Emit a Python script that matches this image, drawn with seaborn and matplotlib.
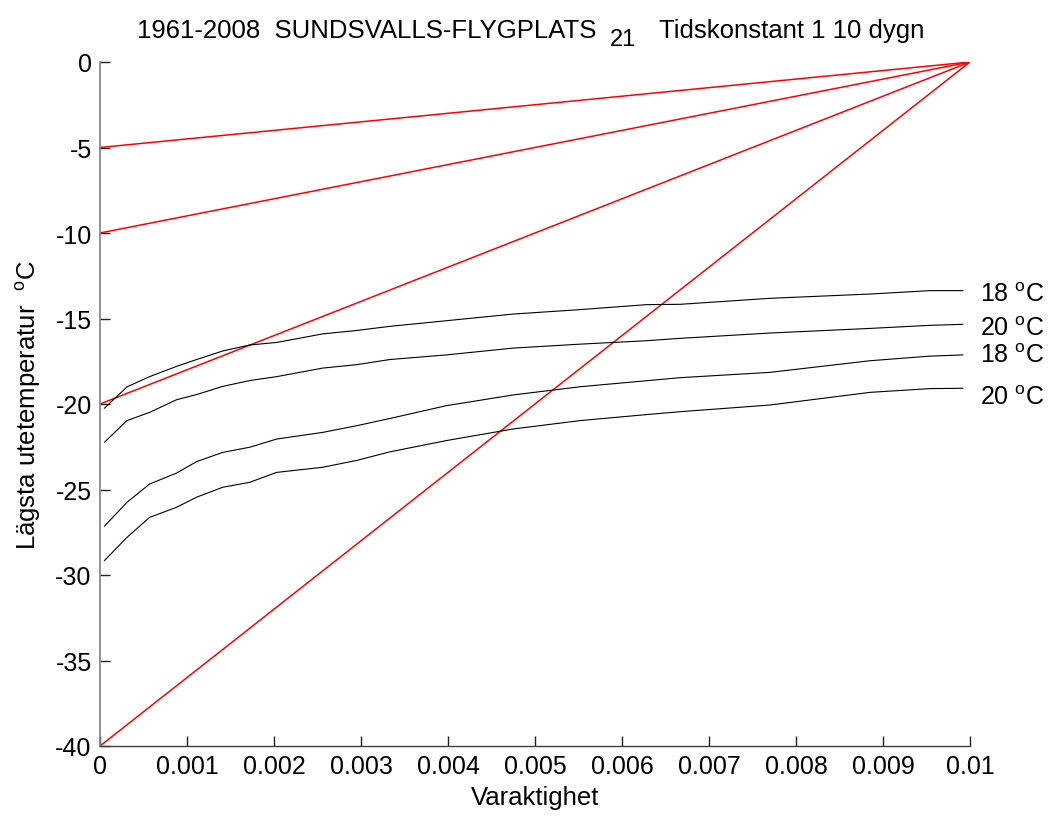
import numpy as np
import pandas as pd
import matplotlib
matplotlib.use("Agg")
import matplotlib.pyplot as plt
from matplotlib import font_manager
import seaborn as sns

# ---- data ----
varaktighet = [0.00005, 0.00031, 0.00057, 0.00088, 0.00111, 0.00141, 0.00172, 0.00203,
               0.00256, 0.00295, 0.00333, 0.00398, 0.00475, 0.00552, 0.00628, 0.00667,
               0.0077, 0.00885, 0.00954, 0.00992]
curve_18_a = [-20.25, -19.0, -18.4, -17.8, -17.4, -16.9, -16.55, -16.4, -15.9, -15.7,
              -15.46, -15.13, -14.74, -14.48, -14.19, -14.17, -13.82, -13.57, -13.37, -13.37]
curve_20_a = [-22.24, -20.97, -20.49, -19.75, -19.45, -18.97, -18.63, -18.4, -17.9, -17.7,
              -17.4, -17.13, -16.73, -16.5, -16.3, -16.16, -15.85, -15.58, -15.4, -15.34]
curve_18_b = [-27.15, -25.75, -24.68, -24.04, -23.37, -22.83, -22.53, -22.05, -21.66, -21.27,
              -20.85, -20.1, -19.47, -18.99, -18.64, -18.46, -18.15, -17.47, -17.2, -17.13]
curve_20_b = [-29.16, -27.8, -26.63, -26.04, -25.45, -24.87, -24.58, -24.0, -23.7, -23.3,
              -22.8, -22.14, -21.46, -20.97, -20.62, -20.45, -20.06, -19.32, -19.1, -19.08]
curve_names = ["18a", "20a", "18b", "20b"]
curve_labels = ["18", "20", "18", "20"]
label_y = [-13.57, -15.56, -17.13, -19.6]

red_start_x = [0.0, 0.0, 0.0, 0.0]
red_start_y = [-5, -10, -20, -40]
red_end_x = 0.01
red_end_y = 0

xticks = [0, 0.001, 0.002, 0.003, 0.004, 0.005, 0.006, 0.007, 0.008, 0.009, 0.01]
xticklabels = ["0", "0.001", "0.002", "0.003", "0.004", "0.005", "0.006", "0.007", "0.008", "0.009", "0.01"]
yticks = [0, -5, -10, -15, -20, -25, -30, -35, -40]

title_main = "1961-2008  SUNDSVALLS-FLYGPLATS"
title_sub = "21"
title_rest = "Tidskonstant 1 10 dygn"

# ---- build tables ----
curves = [curve_18_a, curve_20_a, curve_18_b, curve_20_b]
rows = []
for name, vals in zip(curve_names, curves):
    for x, y in zip(varaktighet, vals):
        rows.append({"x": x, "y": y, "kurva": name})
df_curves = pd.DataFrame(rows)

red_rows = []
for i, (x0, y0) in enumerate(zip(red_start_x, red_start_y)):
    red_rows.append({"x": x0, "y": y0, "linje": i})
    red_rows.append({"x": red_end_x, "y": red_end_y, "linje": i})
df_red = pd.DataFrame(red_rows)

# ---- plot ----
sns.set_style("white")
plt.rcParams["font.family"] = ["Liberation Sans", "DejaVu Sans"]
plt.rcParams["mathtext.fontset"] = "custom"
plt.rcParams["mathtext.rm"] = "Liberation Sans"
plt.rcParams["text.color"] = "black"
plt.rcParams["axes.labelcolor"] = "black"
plt.rcParams["xtick.direction"] = "in"
plt.rcParams["ytick.direction"] = "in"
plt.rcParams["xtick.bottom"] = True
plt.rcParams["ytick.left"] = True

names = {f.name for f in font_manager.fontManager.ttflist}
narrow = "Liberation Sans Narrow" if "Liberation Sans Narrow" in names else None

FS = 18

fig = plt.figure(figsize=(10.49, 8.20), dpi=100)
ax = fig.add_axes([100 / 1049, 1 - 747 / 820, 870 / 1049, 684 / 820])

sns.lineplot(data=df_red, x="x", y="y", units="linje", estimator=None,
             color="#ff0000", linewidth=1.1, ax=ax, legend=False, sort=False)
sns.lineplot(data=df_curves, x="x", y="y", units="kurva", estimator=None,
             color="black", linewidth=0.8, ax=ax, legend=False, sort=False)

ax.set_xlim(0, 0.01)
ax.set_ylim(-40, 0)
ax.set_xticks(xticks)
ax.set_xticklabels(xticklabels)
ax.set_yticks(yticks)
ax.set_yticklabels([str(t) for t in yticks])
ax.tick_params(direction="in", length=7, width=1.0, labelsize=FS, pad=6,
               color="#222222", labelcolor="black", bottom=True, left=True)
for s in ["top", "right"]:
    ax.spines[s].set_visible(False)
ax.spines["left"].set_color("#808080")
ax.spines["left"].set_linewidth(1.2)
ax.spines["bottom"].set_color("#404040")
ax.spines["bottom"].set_linewidth(1.0)

for txt, yv in zip(curve_labels, label_y):
    ax.text(0.01012, yv, txt + r" $^{\rm o}$C", fontsize=FS, va="center", ha="left",
            clip_on=False, color="black")

ax.set_xlabel("Varaktighet", fontsize=FS + 0.5, labelpad=5)
ax.set_ylabel(r"Lägsta utetemperatur  $^{\rm o}$C", fontsize=FS + 0.5, labelpad=9)

# title pieces (narrow font when available)
if narrow:
    tfam = [narrow, "Liberation Sans", "DejaVu Sans"]
    tfs = 21.5
else:
    tfam = ["Liberation Sans", "DejaVu Sans"]
    tfs = 18.5
fig.text(137 / 1049, 1 - 31 / 820, title_main, ha="left", va="center",
         fontsize=tfs, family=tfam, color="black")
fig.text(610 / 1049, 1 - 40 / 820, title_sub, ha="left", va="center",
         fontsize=tfs - 1.5, family=tfam, color="black")
fig.text(659 / 1049, 1 - 31 / 820, title_rest, ha="left", va="center",
         fontsize=tfs, family=tfam, color="black")

fig.savefig("out.png", dpi=100)
